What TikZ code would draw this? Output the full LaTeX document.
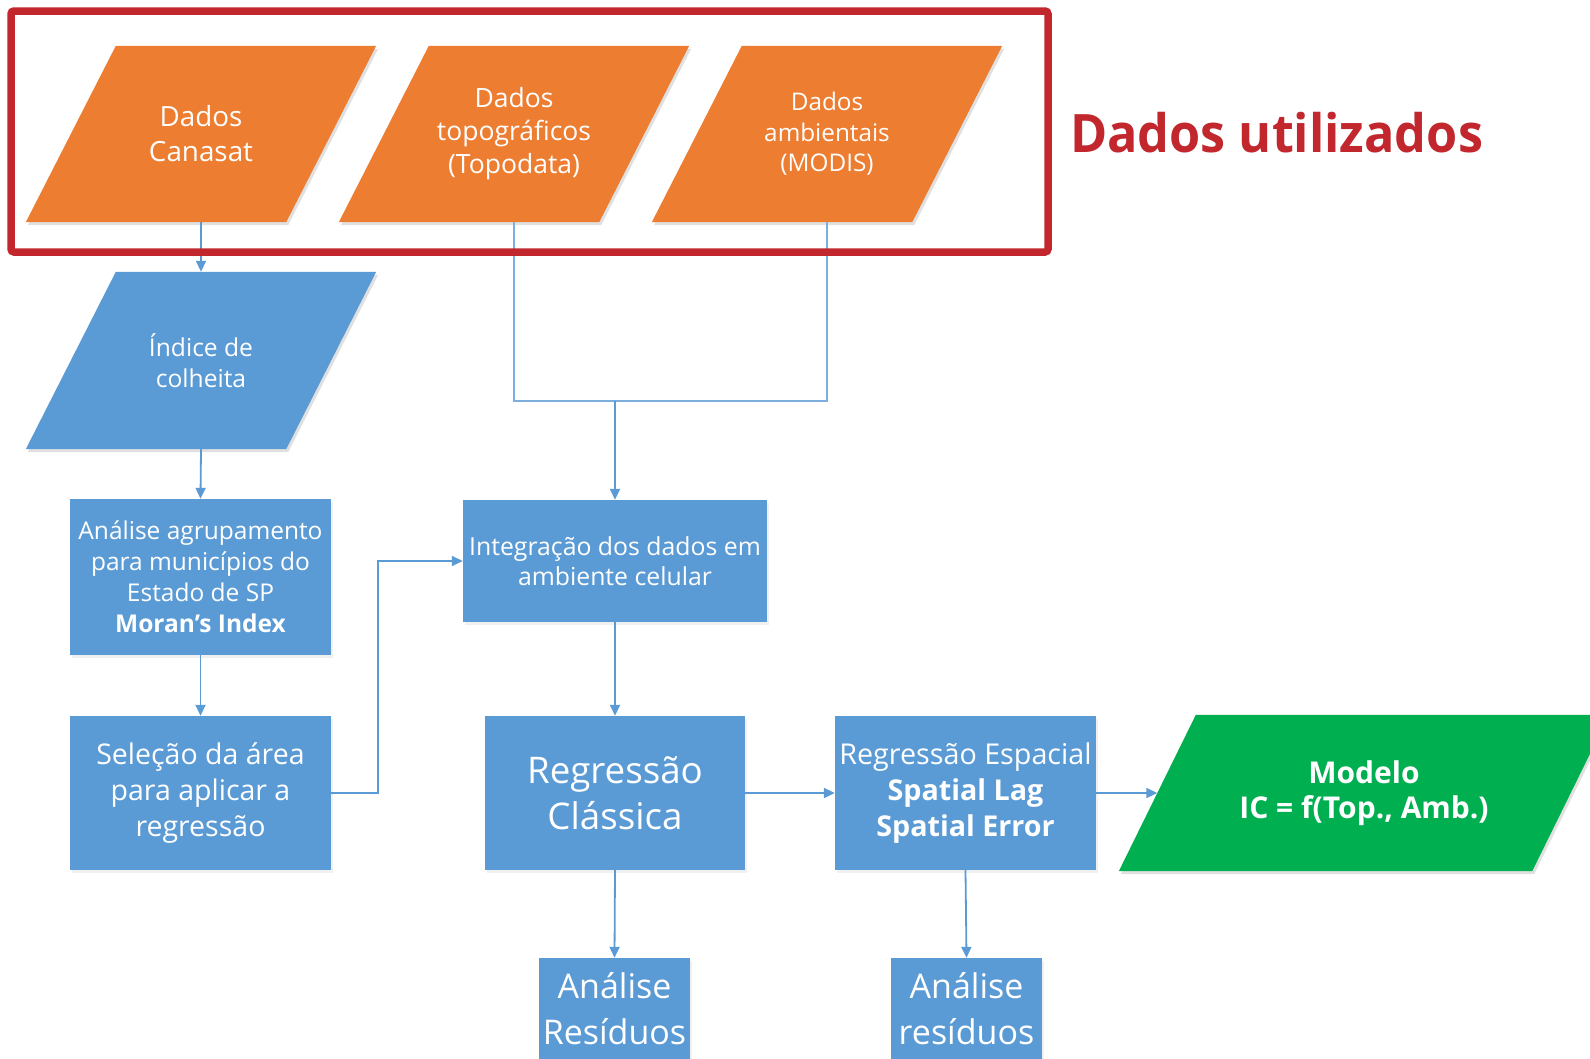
\documentclass[tikz,border=0pt]{standalone}
\usepackage{fontspec}
\setmainfont{Open Sans}
\usetikzlibrary{arrows.meta,shadows,calc}
\definecolor{accorange}{RGB}{237,125,49}
\definecolor{accblue}{RGB}{91,155,213}
\definecolor{accgreen}{RGB}{0,176,80}
\definecolor{framered}{RGB}{193,39,45}
\definecolor{linkblue}{RGB}{91,155,213}
\pgfdeclarelayer{bg}
\pgfsetlayers{bg,main}
\newcommand\fz[2]{\fontsize{#1}{#2}\selectfont}
% slanted data shape behind a named node: node, colour, half of the slant
\newcommand\slantfill[3]{%
  \fill[black, opacity=0.12] ([xshift={-#3+2}, yshift=-3pt]#1.south west) -- ([xshift={-#3+2}, yshift=-3pt]#1.south east)
     -- ([xshift={#3+2}, yshift=-3pt]#1.north east) -- ([xshift={#3+2}, yshift=-3pt]#1.north west) -- cycle;
  \fill[#2] ([xshift=-#3]#1.south west) -- ([xshift=-#3]#1.south east)
     -- ([xshift=#3]#1.north east) -- ([xshift=#3]#1.north west) -- cycle;}
\tikzset{
  base/.style={text=white, align=center, inner sep=0pt},
  databox/.style={base, minimum width=260, minimum height=176},
  procbox/.style={base, fill=accblue, drop shadow={shadow xshift=2pt, shadow yshift=-3pt, opacity=0.12}},
  link/.style={draw=linkblue, line width=1.8},
  flow/.style={link, -{Triangle[length=11pt,width=10pt]}},
}
\begin{document}
\begin{tikzpicture}[x=1pt,y=-1pt]
\useasboundingbox (0,0) rectangle (1590,1058);

% input data
\node[databox, font=\fz{27.8}{35}] (canasat) at (201,134) {Dados\\Canasat};
\node[databox, font=\fz{26.5}{33}] (topo) at (514,134) {Dados\\topográficos\\(Topodata)};
\node[databox, font=\fz{24.3}{30.5}] (ambient) at (827,134) {Dados\\ambientais\\(MODIS)};
\node[databox, minimum height=177, font=\fz{24.6}{30.5}] (indice) at (201,360.5) {Índice de\\colheita};

% processing steps
\node[procbox, minimum width=261, minimum height=156, font=\fz{24.5}{31}] (analise) at (200.5,577)
  {Análise agrupamento\\para municípios do\\Estado de SP\\\textbf{Moran’s Index}};
\node[procbox, minimum width=261, minimum height=154, font=\fz{28.5}{36}] (selecao) at (200.5,793)
  {Seleção da área\\para aplicar a\\regressão};
\node[procbox, minimum width=304, minimum height=122, font=\fz{24.8}{30}] (integ) at (615,561)
  {Integração dos dados em\\ambiente celular};
\node[procbox, minimum width=260, minimum height=154, font=\fz{36.7}{46}] (regc) at (615,793)
  {Regressão\\Clássica};
\node[procbox, minimum width=261, minimum height=154, font=\fz{28.7}{36}] (rege) at (965.5,793)
  {Regressão Espacial\\\textbf{Spatial Lag}\\\textbf{Spatial Error}};
\node[procbox, minimum width=151, minimum height=102, font=\fz{34}{46}] (resc) at (614.5,1009)
  {Análise\\Resíduos};
\node[procbox, minimum width=151, minimum height=102, font=\fz{34}{46}] (rese) at (966.5,1009)
  {Análise\\resíduos};
\node[base, minimum width=413, minimum height=156, font=\bfseries\fz{30}{35}] (modelo) at (1364,793)
  {Modelo\\IC = f(Top., Amb.)};

\begin{pgfonlayer}{bg}
  \slantfill{canasat}{accorange}{45}
  \slantfill{topo}{accorange}{45}
  \slantfill{ambient}{accorange}{45}
  \slantfill{indice}{accblue}{45}
  \slantfill{modelo}{accgreen}{38.5}
\end{pgfonlayer}

% connectors
\coordinate (join) at (615,401);
\draw[flow] (canasat.south) -- (indice.north);
\draw[flow] (indice.south) -- (analise.north);
\draw[flow] (analise.south) -- (selecao.north);
\draw[flow] (selecao.east) -- ++(47,0) |- (integ.west);
\draw[link, line width=1.4, draw=linkblue!80] (topo.south) -- (topo.south |- join) -- (ambient.south |- join) -- (ambient.south);
\draw[flow] (join) -- (integ.north);
\draw[flow] (integ.south) -- (regc.north);
\draw[flow] (regc.east) -- (rege.west);
\draw[flow] (rege.east) -- (modelo.west);
\draw[flow] (regc.south) -- (resc.north);
\draw[flow] (rege.south) -- (rese.north);

% group frame and its caption
\node[draw=framered, line width=7.5, rounded corners=3, minimum width=1037, minimum height=241, inner sep=0] (grupo) at (529.5,131.5) {};
\node[anchor=base west, text=framered, font=\bfseries\fz{53}{60}, inner sep=0] (titulo) at (1070,152) {\scalebox{0.95}[1]{Dados utilizados}};
\end{tikzpicture}
\end{document}
